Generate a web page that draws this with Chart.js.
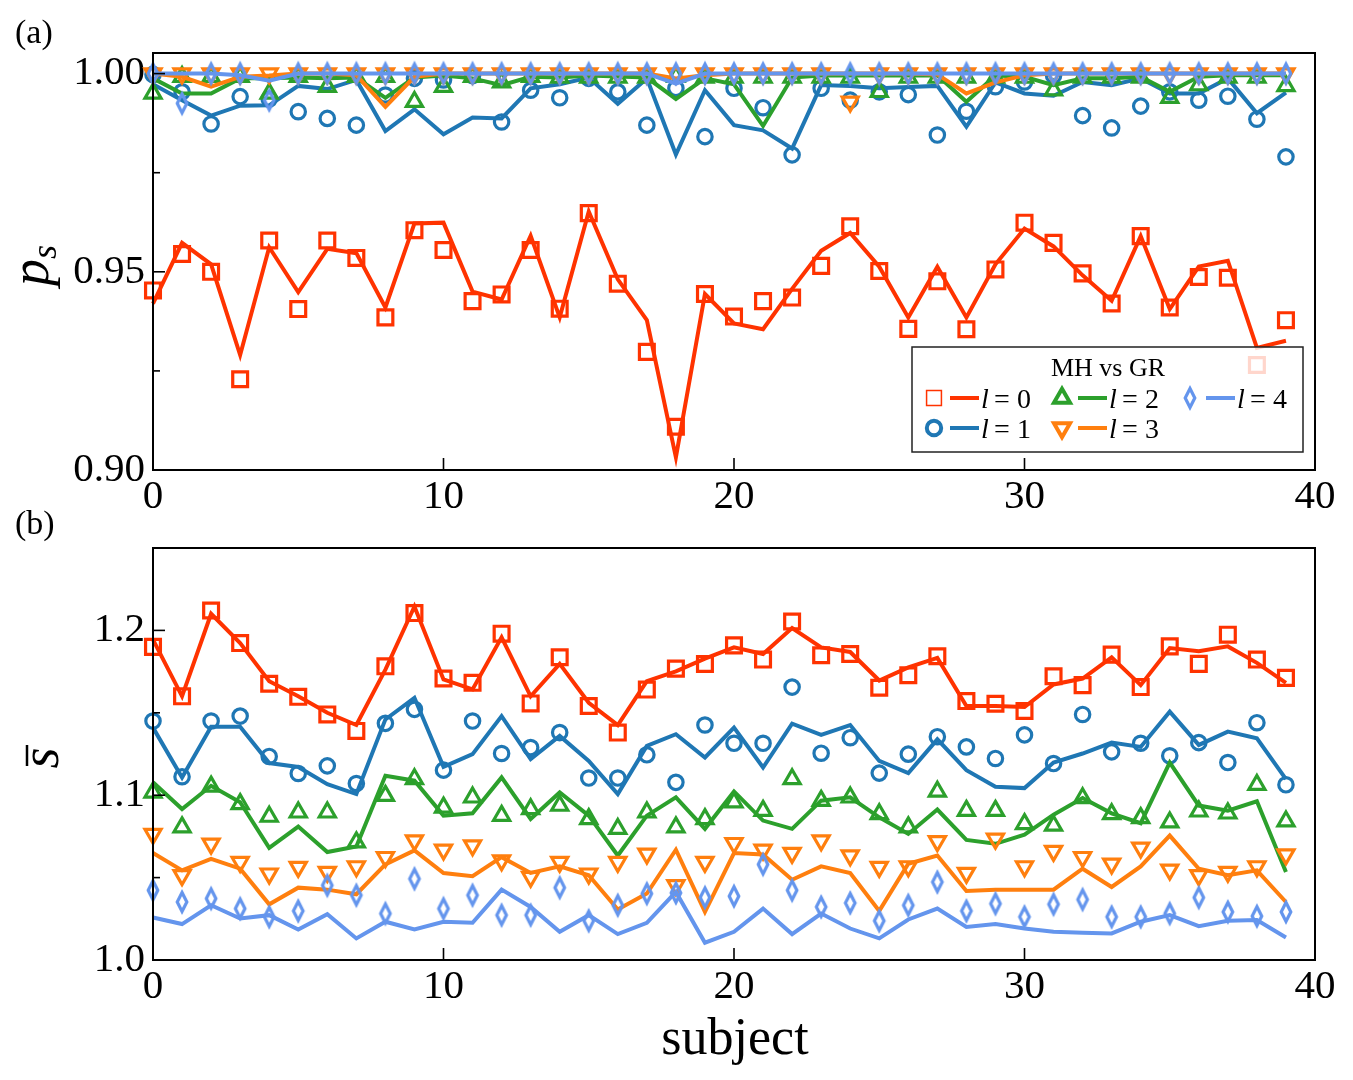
<!DOCTYPE html>
<html>
<head>
<meta charset="utf-8">
<script src="https://cdn.jsdelivr.net/npm/chart.js@4.4.0/dist/chart.umd.min.js"></script>
<style>
  html, body { margin: 0; padding: 0; background: #fff; }
  #chartA { position: absolute; left: 0; top: 0; }
  #chartB { position: absolute; left: 0; top: 495px; }
</style>
</head>
<body>
<canvas id="chartA" width="1353" height="515"></canvas>
<canvas id="chartB" width="1353" height="585"></canvas>
<script>
const FONT = "'Liberation Serif', 'DejaVu Serif', serif";

// categories and ticks
const subjects = [0, 1, 2, 3, 4, 5, 6, 7, 8, 9, 10, 11, 12, 13, 14, 15, 16, 17, 18, 19,
  20, 21, 22, 23, 24, 25, 26, 27, 28, 29, 30, 31, 32, 33, 34, 35, 36, 37, 38, 39];
const xTickValues = [0, 10, 20, 30, 40];
const psTickValues = [0.90, 0.925, 0.95, 0.975, 1.00];
const psTickLabels = ['0.90', '', '0.95', '', '1.00'];
const sTickValues = [1.00, 1.05, 1.10, 1.15, 1.20, 1.25];
const sTickLabels = ['1.0', '', '1.1', '', '1.2', ''];
const ellValues = [0, 1, 2, 3, 4];

// (a) p_s : markers and lines per l
const psMarkL0 = [0.9453, 0.9545, 0.9500, 0.9229, 0.9579, 0.9406, 0.9579, 0.9535, 0.9385, 0.9605,
  0.9555, 0.9426, 0.9443, 0.9555, 0.9407, 0.9648, 0.9470, 0.9298, 0.9109, 0.9444,
  0.9387, 0.9426, 0.9435, 0.9515, 0.9615, 0.9502, 0.9356, 0.9476, 0.9355, 0.9506,
  0.9624, 0.9573, 0.9496, 0.9420, 0.9590, 0.9410, 0.9487, 0.9485, 0.9265, 0.9378];
const psLineL0 = [0.9420, 0.9573, 0.9519, 0.9290, 0.9562, 0.9449, 0.9558, 0.9547, 0.9410, 0.9622,
  0.9624, 0.9450, 0.9430, 0.9591, 0.9385, 0.9652, 0.9481, 0.9378, 0.9032, 0.9444,
  0.9370, 0.9355, 0.9457, 0.9553, 0.9598, 0.9513, 0.9385, 0.9513, 0.9385, 0.9519,
  0.9609, 0.9564, 0.9491, 0.9427, 0.9590, 0.9406, 0.9513, 0.9528, 0.9308, 0.9326];
const psMarkL1 = [0.9998, 0.9954, 0.9873, 0.9942, 0.9936, 0.9904, 0.9887, 0.9870, 0.9946, 0.9988,
  0.9984, 0.9995, 0.9878, 0.9958, 0.9939, 0.9988, 0.9954, 0.9870, 0.9963, 0.9841,
  0.9963, 0.9914, 0.9795, 0.9963, 0.9933, 0.9954, 0.9947, 0.9845, 0.9905, 0.9967,
  0.9979, 0.9995, 0.9894, 0.9863, 0.9918, 0.9954, 0.9933, 0.9943, 0.9885, 0.9790];
const psLineL1 = [0.9973, 0.9933, 0.9894, 0.9919, 0.9920, 0.9969, 0.9961, 0.9984, 0.9855, 0.9910,
  0.9847, 0.9889, 0.9887, 0.9963, 0.9973, 0.9990, 0.9924, 0.9988, 0.9796, 0.9958,
  0.9870, 0.9857, 0.9811, 0.9971, 0.9969, 0.9963, 0.9966, 0.9969, 0.9866, 0.9978,
  0.9950, 0.9944, 0.9979, 0.9971, 0.9988, 0.9950, 0.9950, 0.9988, 0.9900, 0.9952];
const psMarkL2 = [0.9950, 0.9992, 0.9992, 0.9992, 0.9950, 0.9992, 0.9967, 0.9992, 0.9992, 0.9929,
  0.9967, 0.9992, 0.9978, 0.9992, 0.9990, 0.9990, 0.9990, 0.9990, 0.9992, 0.9990,
  0.9990, 0.9990, 0.9990, 0.9990, 0.9990, 0.9954, 0.9990, 0.9990, 0.9990, 0.9990,
  0.9990, 0.9958, 0.9990, 0.9990, 0.9990, 0.9939, 0.9971, 0.9990, 0.9990, 0.9969];
const psLineL2 = [0.9988, 0.9950, 0.9950, 0.9988, 0.9988, 0.9990, 0.9988, 0.9990, 0.9939, 0.9990,
  0.9995, 0.9988, 0.9971, 0.9992, 0.9990, 0.9995, 0.9993, 0.9990, 0.9936, 0.9988,
  0.9973, 0.9868, 0.9990, 0.9995, 0.9995, 0.9995, 0.9995, 0.9996, 0.9929, 0.9995,
  0.9992, 0.9971, 0.9988, 0.9988, 0.9992, 0.9954, 0.9992, 0.9996, 0.9996, 0.9996];
const psMarkL3 = [1.0, 1.0, 1.0, 1.0, 1.0, 1.0, 1.0, 1.0, 1.0, 1.0,
  1.0, 1.0, 1.0, 1.0, 1.0, 1.0, 1.0, 1.0, 1.0, 1.0,
  1.0, 1.0, 1.0, 1.0, 0.9929, 1.0, 1.0, 1.0, 1.0, 1.0,
  1.0, 1.0, 1.0, 1.0, 1.0, 1.0, 1.0, 1.0, 1.0, 1.0];
const psLineL3 = [1.0, 0.9992, 0.9967, 0.9992, 0.9995, 1.0, 1.0, 0.9996, 0.9916, 0.9992,
  1.0, 1.0, 1.0, 1.0, 1.0, 1.0, 1.0, 1.0, 0.9988, 0.9996,
  1.0, 1.0, 1.0, 1.0, 1.0, 1.0, 1.0, 0.9998, 0.9950, 0.9978,
  0.9996, 1.0, 1.0, 1.0, 1.0, 1.0, 1.0, 1.0, 1.0, 1.0];
const psMarkL4 = [1.0, 0.9925, 1.0, 1.0, 0.9933, 1.0, 1.0, 1.0, 1.0, 1.0,
  1.0, 1.0, 1.0, 1.0, 1.0, 1.0, 1.0, 1.0, 1.0, 1.0,
  1.0, 1.0, 1.0, 1.0, 1.0, 1.0, 1.0, 1.0, 1.0, 1.0,
  1.0, 1.0, 1.0, 1.0, 1.0, 1.0, 1.0, 1.0, 1.0, 1.0];
const psLineL4 = [1.0, 1.0, 1.0, 0.9996, 0.9982, 1.0, 1.0, 1.0, 1.0, 1.0,
  1.0, 1.0, 1.0, 1.0, 1.0, 1.0, 1.0, 1.0, 0.9975, 1.0,
  1.0, 1.0, 1.0, 1.0, 1.0, 1.0, 1.0, 1.0, 1.0, 1.0,
  1.0, 1.0, 1.0, 1.0, 1.0, 1.0, 1.0, 1.0, 1.0, 1.0];

// (b) s-bar : markers and lines per l
const sMarkL0 = [1.1900, 1.1600, 1.2121, 1.1923, 1.1676, 1.1597, 1.1490, 1.1390, 1.1782, 1.2105,
  1.1708, 1.1682, 1.1980, 1.1557, 1.1837, 1.1541, 1.1380, 1.1641, 1.1768, 1.1796,
  1.1909, 1.1823, 1.2054, 1.1849, 1.1857, 1.1652, 1.1728, 1.1843, 1.1571, 1.1555,
  1.1511, 1.1722, 1.1668, 1.1853, 1.1656, 1.1903, 1.1797, 1.1974, 1.1823, 1.1712];
const sLineL0 = [1.1944, 1.1600, 1.2101, 1.1923, 1.1692, 1.1601, 1.1500, 1.1426, 1.1762, 1.2145,
  1.1702, 1.1642, 1.1958, 1.1600, 1.1797, 1.1561, 1.1426, 1.1692, 1.1752, 1.1829,
  1.1897, 1.1857, 1.2014, 1.1897, 1.1869, 1.1696, 1.1776, 1.1833, 1.1541, 1.1541,
  1.1535, 1.1672, 1.1708, 1.1837, 1.1668, 1.1893, 1.1873, 1.1903, 1.1803, 1.1682];
const sMarkL1 = [1.1450, 1.1112, 1.1450, 1.1480, 1.1235, 1.1132, 1.1178, 1.1071, 1.1436, 1.1521,
  1.1152, 1.1450, 1.1253, 1.1289, 1.1380, 1.1104, 1.1104, 1.1245, 1.1078, 1.1426,
  1.1315, 1.1315, 1.1656, 1.1255, 1.1349, 1.1134, 1.1249, 1.1355, 1.1293, 1.1223,
  1.1366, 1.1192, 1.1490, 1.1263, 1.1315, 1.1239, 1.1319, 1.1198, 1.1440, 1.1063];
const sLineL1 = [1.1410, 1.1108, 1.1416, 1.1416, 1.1195, 1.1171, 1.1067, 1.1007, 1.1460, 1.1591,
  1.1172, 1.1249, 1.1480, 1.1219, 1.1360, 1.1208, 1.1007, 1.1299, 1.1370, 1.1229,
  1.1410, 1.1168, 1.1434, 1.1366, 1.1426, 1.1208, 1.1134, 1.1339, 1.1152, 1.1051,
  1.1043, 1.1198, 1.1253, 1.1319, 1.1293, 1.1507, 1.1305, 1.1386, 1.1345, 1.1098];
const sMarkL2 = [1.1017, 1.0806, 1.1053, 1.0947, 1.0870, 1.0896, 1.0896, 1.0715, 1.0997, 1.1098,
  1.0926, 1.0987, 1.0876, 1.0916, 1.0937, 1.0856, 1.0796, 1.0896, 1.0806, 1.0856,
  1.0957, 1.0906, 1.1098, 1.0967, 1.0987, 1.0886, 1.0806, 1.1022, 1.0906, 1.0906,
  1.0826, 1.0816, 1.0983, 1.0886, 1.0862, 1.0836, 1.0902, 1.0890, 1.1063, 1.0842];
const sLineL2 = [1.1078, 1.0916, 1.1057, 1.0957, 1.0681, 1.0810, 1.0655, 1.0689, 1.1118, 1.1088,
  1.0876, 1.0890, 1.1108, 1.0856, 1.1017, 1.0876, 1.0634, 1.0876, 1.0987, 1.0796,
  1.1023, 1.0846, 1.0796, 1.0967, 1.0987, 1.0866, 1.0765, 1.0913, 1.0729, 1.0705,
  1.0761, 1.0882, 1.0983, 1.0890, 1.0830, 1.1198, 1.0937, 1.0906, 1.0963, 1.0534];
const sMarkL3 = [1.0765, 1.0514, 1.0705, 1.0594, 1.0524, 1.0564, 1.0534, 1.0568, 1.0624, 1.0725,
  1.0669, 1.0695, 1.0604, 1.0504, 1.0594, 1.0524, 1.0594, 1.0645, 1.0453, 1.0594,
  1.0709, 1.0669, 1.0649, 1.0725, 1.0634, 1.0564, 1.0568, 1.0720, 1.0528, 1.0735,
  1.0568, 1.0661, 1.0624, 1.0584, 1.0681, 1.0548, 1.0514, 1.0534, 1.0568, 1.0640];
const sLineL3 = [1.0649, 1.0544, 1.0614, 1.0554, 1.0338, 1.0439, 1.0427, 1.0399, 1.0580, 1.0665,
  1.0528, 1.0508, 1.0624, 1.0528, 1.0568, 1.0514, 1.0306, 1.0403, 1.0669, 1.0292,
  1.0649, 1.0640, 1.0487, 1.0568, 1.0528, 1.0298, 1.0584, 1.0634, 1.0419, 1.0427,
  1.0427, 1.0427, 1.0554, 1.0443, 1.0568, 1.0755, 1.0554, 1.0514, 1.0544, 1.0352];
const sMarkL4 = [1.0423, 1.0352, 1.0373, 1.0312, 1.0262, 1.0298, 1.0453, 1.0393, 1.0282, 1.0493,
  1.0312, 1.0393, 1.0272, 1.0272, 1.0439, 1.0238, 1.0332, 1.0403, 1.0407, 1.0379,
  1.0387, 1.0580, 1.0423, 1.0322, 1.0346, 1.0238, 1.0332, 1.0473, 1.0298, 1.0342,
  1.0262, 1.0338, 1.0367, 1.0262, 1.0262, 1.0282, 1.0379, 1.0292, 1.0266, 1.0292];
const sLineL4 = [1.0258, 1.0218, 1.0332, 1.0252, 1.0272, 1.0185, 1.0278, 1.0131, 1.0232, 1.0185,
  1.0232, 1.0226, 1.0427, 1.0322, 1.0171, 1.0272, 1.0157, 1.0226, 1.0413, 1.0105,
  1.0171, 1.0312, 1.0157, 1.0282, 1.0191, 1.0131, 1.0246, 1.0312, 1.0201, 1.0218,
  1.0191, 1.0171, 1.0165, 1.0161, 1.0232, 1.0272, 1.0205, 1.0238, 1.0242, 1.0137];

const colors = ['#ff3300', '#1f77b4', '#2ca02c', '#ff7f0e', '#6495ed'];

function makeDiamond(color) {
  const c = document.createElement('canvas');
  c.width = 18;
  c.height = 30;
  const g = c.getContext('2d');
  g.strokeStyle = color;
  g.lineWidth = 3.2;
  g.beginPath();
  g.moveTo(9, 5.5);
  g.lineTo(13.8, 15);
  g.lineTo(9, 24.5);
  g.lineTo(4.2, 15);
  g.closePath();
  g.stroke();
  return c;
}

const markerStyles = [
  { pointStyle: 'rect', radius: 10.5, rotation: 0 },
  { pointStyle: 'circle', radius: 7.2, rotation: 0 },
  { pointStyle: 'triangle', radius: 9.3, rotation: 0 },
  { pointStyle: 'triangle', radius: 9.3, rotation: 180 },
  { pointStyle: makeDiamond(colors[4]), radius: 9, rotation: 0 },
];

function pts(arr) {
  return arr.map((v, i) => ({ x: subjects[i], y: v }));
}

function buildDatasets(marks, lines) {
  const ds = [];
  let k = 0;
  for (let l = 0; l < 5; l++) {
    const m = markerStyles[l];
    ds.push({
      data: pts(marks[l]),
      showLine: false,
      pointStyle: m.pointStyle,
      pointRadius: m.radius,
      pointRotation: m.rotation,
      pointBorderWidth: 3.2,
      pointBorderColor: colors[l],
      pointBackgroundColor: 'rgba(0,0,0,0)',
      order: 20 - k++,
      clip: false,
    });
    ds.push({
      data: pts(lines[l]),
      showLine: true,
      borderColor: colors[l],
      borderWidth: 4,
      pointRadius: 0,
      tension: 0,
      fill: false,
      order: 20 - k++,
      clip: false,
    });
  }
  return ds;
}

// inward ticks and spines
const framePlugin = {
  id: 'frame',
  afterDatasetsDraw(chart) {
    const ctx = chart.ctx;
    const a = chart.chartArea;
    const xs = chart.scales.x, ys = chart.scales.y;
    ctx.save();
    ctx.strokeStyle = '#000';
    ctx.lineWidth = 1.6;
    xs.ticks.forEach(t => {
      const px = xs.getPixelForValue(t.value);
      ctx.beginPath();
      ctx.moveTo(px, a.bottom);
      ctx.lineTo(px, a.bottom - 12);
      ctx.stroke();
    });
    ys.ticks.forEach(t => {
      const py = ys.getPixelForValue(t.value);
      const len = t.label === '' ? 7 : 12;
      ctx.beginPath();
      ctx.moveTo(a.left, py);
      ctx.lineTo(a.left + len, py);
      ctx.stroke();
    });
    ctx.lineWidth = 2;
    ctx.strokeRect(a.left, a.top, a.right - a.left, a.bottom - a.top);
    ctx.restore();
  }
};

const legendPlugin = {
  id: 'mhLegend',
  afterDatasetsDraw(chart) {
    const ctx = chart.ctx;
    ctx.save();
    ctx.fillStyle = 'rgba(255,255,255,0.8)';
    ctx.fillRect(912, 347, 391, 105);
    ctx.strokeStyle = '#222';
    ctx.lineWidth = 1.5;
    ctx.strokeRect(912, 347, 391, 105);
    ctx.fillStyle = '#000';
    ctx.font = '26px ' + FONT;
    ctx.textAlign = 'center';
    ctx.textBaseline = 'middle';
    ctx.fillText('MH vs GR', 1108, 369);
    ellValues.forEach(l => {
      const cx = [934, 1062, 1190][Math.floor(l / 2)];
      const cy = [398, 428][l % 2];
      const m = markerStyles[l];
      ctx.strokeStyle = colors[l];
      ctx.fillStyle = 'rgba(0,0,0,0)';
      Chart.helpers.drawPoint(ctx, {
        pointStyle: m.pointStyle, radius: m.radius, borderWidth: 3.2, rotation: m.rotation
      }, cx, cy);
      ctx.lineWidth = 4;
      ctx.beginPath();
      ctx.moveTo(cx + 16, cy);
      ctx.lineTo(cx + 45, cy);
      ctx.stroke();
      ctx.fillStyle = '#000';
      ctx.textBaseline = 'alphabetic';
      ctx.textAlign = 'left';
      ctx.font = 'italic 28px ' + FONT;
      ctx.fillText('l', cx + 47, cy + 10);
      ctx.font = '28px ' + FONT;
      ctx.textAlign = 'center';
      ctx.fillText('=', cx + 68, cy + 10);
      ctx.textAlign = 'left';
      ctx.fillText(String(l), cx + 83, cy + 10);
    });
    ctx.restore();
  }
};

const labelsA = {
  id: 'labelsA',
  afterDraw(chart) {
    const ctx = chart.ctx;
    ctx.save();
    ctx.fillStyle = '#000';
    ctx.font = '34px ' + FONT;
    ctx.textAlign = 'left';
    ctx.textBaseline = 'middle';
    ctx.fillText('(a)', 15, 34);
    ctx.translate(48, 262);
    ctx.rotate(-Math.PI / 2);
    ctx.textBaseline = 'alphabetic';
    ctx.font = 'italic 54px ' + FONT;
    ctx.fillText('p', -24, 0);
    ctx.font = 'italic 36px ' + FONT;
    ctx.fillText('s', 3, 8);
    ctx.restore();
  }
};

const labelsB = {
  id: 'labelsB',
  afterDraw(chart) {
    const ctx = chart.ctx;
    ctx.save();
    ctx.fillStyle = '#000';
    ctx.strokeStyle = '#000';
    ctx.font = '34px ' + FONT;
    ctx.textAlign = 'left';
    ctx.textBaseline = 'middle';
    ctx.fillText('(b)', 15, 30);
    ctx.font = '52px ' + FONT;
    ctx.textAlign = 'center';
    ctx.fillText('subject', 735, 545);
    ctx.translate(58, 263);
    ctx.rotate(-Math.PI / 2);
    ctx.textBaseline = 'alphabetic';
    ctx.font = 'italic 54px ' + FONT;
    ctx.fillText('s', 0, 0);
    ctx.lineWidth = 2.5;
    ctx.beginPath();
    ctx.moveTo(-8, -31);
    ctx.lineTo(13, -31);
    ctx.stroke();
    ctx.restore();
  }
};

function makeOptions(yMin, yMax, yTicks, yLabels, topPad, xHeight) {
  return {
    responsive: false,
    animation: false,
    events: [],
    layout: { padding: { left: 0, right: 38, top: topPad, bottom: 0 } },
    plugins: { legend: { display: false }, tooltip: { enabled: false } },
    scales: {
      x: {
        type: 'linear', min: 0, max: 40,
        grid: { display: false, drawTicks: false },
        border: { display: false },
        afterBuildTicks: s => { s.ticks = xTickValues.map(v => ({ value: v })); },
        afterFit: s => { s.height = xHeight; },
        ticks: {
          color: '#000', font: { family: FONT, size: 41 }, padding: 3,
          maxRotation: 0, autoSkip: false, callback: v => String(v)
        }
      },
      y: {
        type: 'linear', min: yMin, max: yMax,
        grid: { display: false, drawTicks: false },
        border: { display: false },
        afterBuildTicks: s => { s.ticks = yTicks.map(v => ({ value: v })); },
        afterFit: s => { s.width = 153; },
        ticks: {
          color: '#000', font: { family: FONT, size: 41 }, padding: 8,
          autoSkip: false, callback: (v, i) => yLabels[i]
        }
      }
    }
  };
}

new Chart(document.getElementById('chartA'), {
  type: 'line',
  data: {
    datasets: buildDatasets(
      [psMarkL0, psMarkL1, psMarkL2, psMarkL3, psMarkL4],
      [psLineL0, psLineL1, psLineL2, psLineL3, psLineL4])
  },
  options: makeOptions(0.90, 1.0052, psTickValues, psTickLabels, 53, 45),
  plugins: [framePlugin, legendPlugin, labelsA]
});

new Chart(document.getElementById('chartB'), {
  type: 'line',
  data: {
    datasets: buildDatasets(
      [sMarkL0, sMarkL1, sMarkL2, sMarkL3, sMarkL4],
      [sLineL0, sLineL1, sLineL2, sLineL3, sLineL4])
  },
  options: makeOptions(1.0, 1.25, sTickValues, sTickLabels, 53, 120),
  plugins: [framePlugin, labelsB]
});
</script>
</body>
</html>
